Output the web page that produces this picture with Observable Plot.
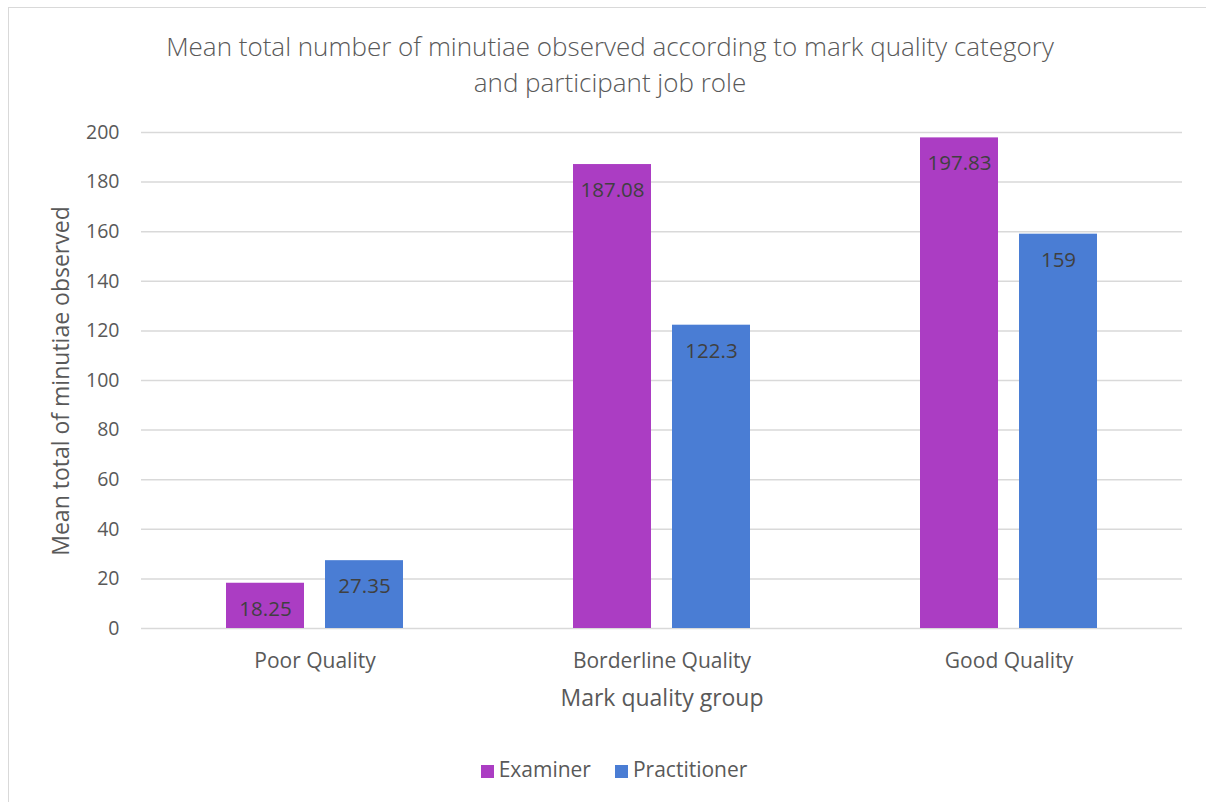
<!DOCTYPE html>
<html>
<head>
<meta charset="utf-8">
<script src="https://cdn.jsdelivr.net/npm/d3@7"></script>
<script src="https://cdn.jsdelivr.net/npm/@observablehq/plot@0.6"></script>
<style>
  html, body { margin: 0; padding: 0; background: #fff; overflow: hidden; }
  #wrap { position: relative; width: 1206px; height: 802px; overflow: hidden; font-family: "Open Sans", Lato, sans-serif; color: #595959; }
  #border { position: absolute; left: 8px; top: 7px; width: 1400px; height: 1000px; border: 1.5px solid #d9d9d9; box-sizing: border-box; }
  #title { position: absolute; left: 0; top: 28px; width: 1220px; text-align: center; font-size: 26px; line-height: 36px; font-weight: 300; }
  #chart { position: absolute; left: 0; top: 110px; }
  #ylabel { position: absolute; left: 60px; top: 381px; transform: translate(-50%, -50%) rotate(-90deg); font-size: 23px; white-space: nowrap; }
  #xlabel { position: absolute; left: 662px; top: 697px; transform: translate(-50%, -50%); font-size: 23px; white-space: nowrap; }
  #legend { position: absolute; left: 0; top: 755px; width: 1228px; text-align: center; font-size: 21px; }
  .sw { display: inline-block; width: 13px; height: 13px; vertical-align: -1px; margin-right: 5px; }
  .item { display: inline-block; margin: 0 12px; }
</style>
</head>
<body>
<div id="wrap">
  <div id="border"></div>
  <div id="title">Mean total number of minutiae observed according to mark quality category<br>and participant job role</div>
  <div id="chart"></div>
  <div id="ylabel">Mean total of minutiae observed</div>
  <div id="xlabel">Mark quality group</div>
  <div id="legend"></div>
</div>
<script>
const groups = ["Poor Quality", "Borderline Quality", "Good Quality"];
const roles = ["Examiner", "Practitioner"];
const examinerValues = [18.25, 187.08, 197.83];
const practitionerValues = [27.35, 122.3, 159];
const yTicks = [0, 20, 40, 60, 80, 100, 120, 140, 160, 180, 200];
const colors = ["#AB3DC3", "#4A7DD4"];

const data = [];
groups.forEach((g, i) => {
  data.push({group: g, role: roles[0], value: examinerValues[i]});
  data.push({group: g, role: roles[1], value: practitionerValues[i]});
});

const plot = Plot.plot({
  width: 1206,
  height: 620,
  marginLeft: 141,
  marginRight: 24,
  marginTop: 22,
  marginBottom: 102,
  style: {fontFamily: "'Open Sans', Lato, sans-serif", background: "transparent"},
  fx: {domain: groups, padding: 0, label: null, axis: null},
  x: {domain: roles, paddingInner: 0.212, paddingOuter: 0.858, axis: null},
  y: {domain: [0, 200], label: null},
  color: {domain: roles, range: colors},
  marks: [
    Plot.ruleY(yTicks, {stroke: "#d9d9d9", strokeWidth: 1.5}),
    Plot.axisY({ticks: yTicks, tickSize: 0, tickPadding: 22, fontSize: 19.5, fill: "#595959", label: null}),
    Plot.axisFx({anchor: "bottom", tickSize: 0, tickPadding: 25, fontSize: 21, fill: "#595959", label: null}),
    Plot.barY(data, {fx: "group", x: "role", y: "value", fill: "role"}),
    Plot.text(data, {fx: "group", x: "role", y: "value", text: d => String(d.value), dy: 26, fill: "#404040", fontSize: 20.5})
  ]
});
document.getElementById("chart").appendChild(plot);

const legend = document.getElementById("legend");
roles.forEach((r, i) => {
  const item = document.createElement("span");
  item.className = "item";
  item.innerHTML = `<span class="sw" style="background:${colors[i]}"></span>${r}`;
  legend.appendChild(item);
});
</script>
</body>
</html>
